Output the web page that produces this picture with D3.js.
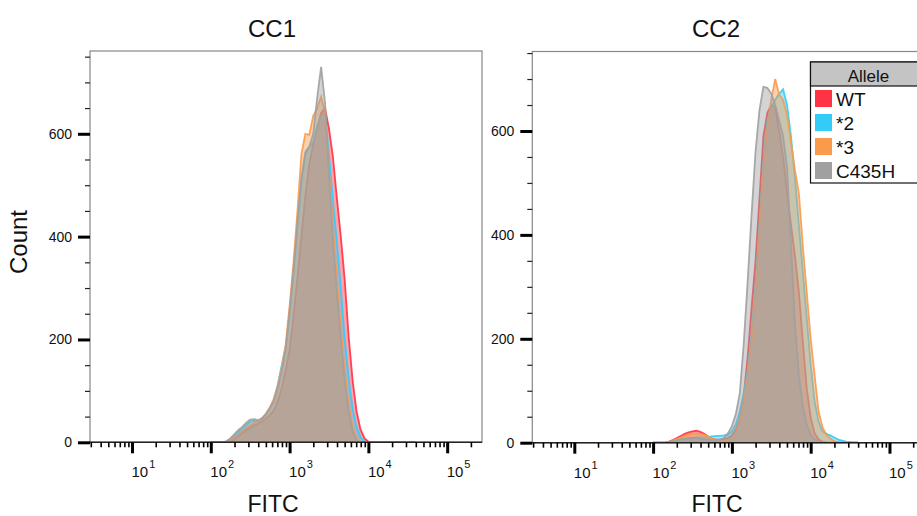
<!DOCTYPE html>
<html>
<head>
<meta charset="utf-8">
<script src="https://cdn.jsdelivr.net/npm/d3@7"></script>
<style>
  body { margin: 0; background: #fff; }
  text { font-family: "Liberation Sans", Arial, sans-serif; }
</style>
</head>
<body>
<div id="chart"></div>
<script>

// log10(FITC) bin positions shared by every histogram
var binLog = [2.00,2.05,2.10,2.15,2.20,2.25,2.30,2.35,2.40,2.45,
              2.50,2.55,2.60,2.65,2.70,2.75,2.80,2.85,2.90,2.95,
              3.00,3.05,3.10,3.15,3.20,3.25,3.30,3.35,3.40,3.45,
              3.50,3.55,3.60,3.65,3.70,3.75,3.80,3.85,3.90,3.95,
              4.00,4.05,4.10,4.15,4.20,4.25,4.30,4.35,4.40,4.45,
              4.50,4.55,4.60];

var alleles = ["WT", "*2", "*3", "C435H"];
var alleleColors = ["#ff3344", "#33ccf8", "#f99a4d", "#a0a0a0"];

// CC1 counts
var cc1WT    = [0,0,0,0,0,2,6,12,18,24, 28,33,36,40,46,53,62,80,105,140,
                180,245,320,400,480,540,580,610,640,650, 610,555,475,400,315,205,120,60,25,8,
                1,0,0,0,0,0,0,0,0,0, 0,0,0];
var cc1Star2 = [0,0,0,0,2,6,13,20,27,34, 40,42,41,45,54,66,82,112,150,185,
                250,330,420,505,560,575,585,615,635,640, 560,470,390,300,200,125,65,30,10,2,
                0,0,0,0,0,0,0,0,0,0, 0,0,0];
var cc1Star3 = [0,0,0,0,1,4,9,15,22,28, 33,37,40,46,56,68,85,110,145,190,
                265,350,450,560,600,598,635,650,672,640, 530,420,320,225,140,75,30,8,1,0,
                0,0,0,0,0,0,0,0,0,0, 0,0,0];
var cc1C435H = [0,0,0,0,2,8,16,24,30,38, 44,45,43,47,55,66,80,105,138,180,
                255,335,430,515,565,575,600,670,730,660, 520,390,290,200,120,60,22,4,0,0,
                0,0,0,0,0,0,0,0,0,0, 0,0,0];

// CC2 counts
var cc2WT    = [0,0,0,0,2,5,9,13,17,20, 22,23,21,17,12,8,6,6,7,9,
                14,25,45,90,165,260,350,470,590,635, 650,645,600,550,480,420,360,290,195,105,
                48,18,6,2,0,0,0,0,0,0, 0,0,0];
var cc2Star2 = [0,0,0,0,0,1,3,5,7,8, 9,10,10,10,11,12,13,13,14,16,
                22,35,60,95,140,205,300,420,540,620, 645,660,672,680,650,590,510,420,330,240,
                150,80,40,22,17,14,10,6,4,2, 1,0,0];
var cc2Star3 = [0,0,0,0,1,4,7,10,13,16, 18,18,17,15,12,8,5,4,4,6,
                10,20,40,80,130,195,290,410,530,610, 660,700,670,660,630,580,525,480,380,290,
                200,130,60,30,15,8,3,0,0,0, 0,0,0];
var cc2C435H = [0,0,0,0,1,3,5,7,8,9, 9,9,8,7,6,5,5,6,9,18,
                32,55,95,190,310,440,560,640,685,683, 672,650,620,590,530,380,230,130,70,35,
                15,6,2,0,0,0,0,0,0,0, 0,0,0];

var yMajor = [0, 200, 400, 600];
var xMajor = [1e1, 1e2, 1e3, 1e4, 1e5];
var xExp = ["1", "2", "3", "4", "5"];

var svg = d3.select("#chart")
  .append("svg")
    .attr("width", 917)
    .attr("height", 516)
    .style("display", "block");

svg.append("rect").attr("width", 917).attr("height", 516).attr("fill", "#fff");

// minor ticks for the log axis: 2..9 x 10^k
var xMinor = [];
for (var k = 0; k <= 5; k++) {
  for (var m = 2; m <= 9; m++) xMinor.push(m * Math.pow(10, k));
}

function drawPanel(p) {
  var x = d3.scaleLog().domain([2.93, 276700]).range([p.left, p.left + 392]);
  var y = d3.scaleLinear().domain([0, p.yMax]).range([p.bottom, p.top]);

  var clipId = "clip" + p.id;
  svg.append("clipPath").attr("id", clipId)
    .append("rect")
      .attr("x", p.left).attr("y", p.top)
      .attr("width", 392).attr("height", p.bottom - p.top);

  var area = d3.area()
    .x(function(d, i) { return x(Math.pow(10, binLog[i])); })
    .y0(y(0))
    .y1(function(d) { return y(d); });
  var line = d3.line()
    .x(function(d, i) { return x(Math.pow(10, binLog[i])); })
    .y(function(d) { return y(d); });

  var g = svg.append("g").attr("clip-path", "url(#" + clipId + ")");
  p.series.forEach(function(s, i) {
    g.append("path")
      .attr("d", area(s))
      .attr("fill", alleleColors[i])
      .attr("fill-opacity", 0.45);
    g.append("path")
      .attr("d", line(s))
      .attr("fill", "none")
      .attr("stroke", alleleColors[i])
      .attr("stroke-width", 1.8)
      .attr("stroke-opacity", 0.9);
  });

  // frame
  svg.append("rect")
    .attr("x", p.left).attr("y", p.top)
    .attr("width", 392).attr("height", p.bottom - p.top)
    .attr("fill", "none")
    .attr("stroke", "#888")
    .attr("stroke-width", 1.2);

  // Y axis: minor every 50, major every 200
  var yMinor = d3.range(50, p.yMax, 50).filter(function(v) { return v % 200 != 0; });
  svg.append("g")
    .attr("transform", "translate(" + p.left + ",0)")
    .call(d3.axisLeft(y).tickValues(yMinor).tickSize(5).tickFormat(""))
    .call(function(a) { a.select(".domain").remove(); a.selectAll("line").attr("stroke", "#222").attr("stroke-width", 1.2); });
  var ya = svg.append("g")
    .attr("transform", "translate(" + p.left + ",0)")
    .call(d3.axisLeft(y).tickValues(yMajor).tickSize(12).tickPadding(6))
    .call(function(a) { a.select(".domain").remove(); a.selectAll("line").attr("stroke", "#000").attr("stroke-width", 3); });
  ya.selectAll("text")
    .attr("font-size", 14)
    .attr("fill", "#111")
    .style("font-family", "Liberation Sans, Arial, sans-serif");

  // X axis
  svg.append("line")
    .attr("x1", p.left).attr("x2", p.left + 392)
    .attr("y1", p.bottom).attr("y2", p.bottom)
    .attr("stroke", "#222").attr("stroke-width", 1.5);
  svg.append("g")
    .attr("transform", "translate(0," + p.bottom + ")")
    .call(d3.axisBottom(x).tickValues(xMinor.filter(function(v) { return v > 2.93 && v < 276700; })).tickSize(5).tickFormat(""))
    .call(function(a) { a.select(".domain").remove(); a.selectAll("line").attr("stroke", "#000").attr("stroke-width", 1.6); });
  svg.append("g")
    .attr("transform", "translate(0," + p.bottom + ")")
    .call(d3.axisBottom(x).tickValues(xMajor).tickSize(11).tickFormat(""))
    .call(function(a) { a.select(".domain").remove(); a.selectAll("line").attr("stroke", "#000").attr("stroke-width", 3); });

  var lab = svg.append("g").selectAll("text")
    .data(xMajor)
    .enter().append("text")
      .attr("x", function(d) { return x(d) - 0.5; })
      .attr("y", p.bottom + 35)
      .attr("font-size", 15)
      .attr("fill", "#111");
  lab.append("tspan").text("10");
  lab.append("tspan")
    .attr("dy", -9)
    .attr("dx", 1)
    .attr("font-size", 11)
    .text(function(d, i) { return xExp[i]; });

  // titles
  svg.append("text")
    .attr("x", p.titleX).attr("y", 37)
    .attr("text-anchor", "middle")
    .attr("font-size", 24)
    .attr("fill", "#111")
    .text(p.title);
  svg.append("text")
    .attr("x", p.titleX + 1).attr("y", 512)
    .attr("text-anchor", "middle")
    .attr("font-size", 23)
    .attr("fill", "#111")
    .text("FITC");
}

drawPanel({ id: 1, left: 90, top: 51, bottom: 442.3, yMax: 761, title: "CC1", titleX: 272,
            series: [cc1WT, cc1Star2, cc1Star3, cc1C435H] });
drawPanel({ id: 2, left: 532.3, top: 51.5, bottom: 442.7, yMax: 753, title: "CC2", titleX: 716,
            series: [cc2WT, cc2Star2, cc2Star3, cc2C435H] });

// y title
svg.append("text")
  .attr("transform", "translate(26.5,242) rotate(-90)")
  .attr("text-anchor", "middle")
  .attr("font-size", 24)
  .attr("fill", "#111")
  .text("Count");

// legend
var lg = svg.append("g").attr("transform", "translate(810.5,62)");
lg.append("rect")
  .attr("width", 110).attr("height", 121)
  .attr("fill", "#fff").attr("stroke", "#111").attr("stroke-width", 1.2);
lg.append("rect")
  .attr("width", 110).attr("height", 24)
  .attr("fill", "#c4c4c4").attr("stroke", "#111").attr("stroke-width", 1.2);
lg.append("text")
  .attr("x", 58).attr("y", 19.5)
  .attr("text-anchor", "middle")
  .attr("font-size", 17)
  .attr("fill", "#111")
  .text("Allele");
var items = lg.selectAll(".item")
  .data(alleles)
  .enter().append("g")
    .attr("transform", function(d, i) { return "translate(4.5," + (28 + i * 24) + ")"; });
items.append("rect")
  .attr("width", 17).attr("height", 17)
  .attr("fill", function(d, i) { return alleleColors[i]; });
items.append("text")
  .attr("x", 21).attr("y", 16)
  .attr("font-size", 19)
  .attr("fill", "#111")
  .text(function(d) { return d; });

</script>
</body>
</html>
